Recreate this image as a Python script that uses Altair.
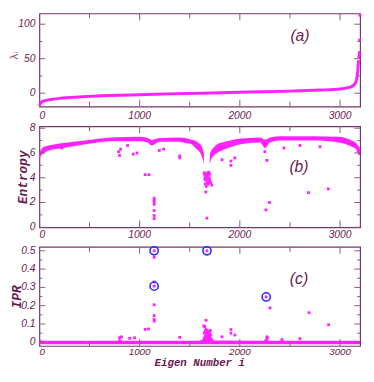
import altair as alt
import pandas as pd

# ---------------- data ----------------
# (a) eigenvalues lambda_i (sorted)
lam_i = [0, 20, 50, 100, 200, 400, 700, 1000, 1300, 1600, 1900, 2200, 2500, 2800, 3000, 3080, 3120, 3150, 3165, 3175, 3180, 3185]
lam_v = [-18, -13, -11, -9.5, -7.5, -5.5, -3.5, -2.2, -1, 0, 1, 2, 3, 4.5, 6, 8, 10, 14, 20, 30, 40, 48]
lam_out_i = [3188, 3190, 3192, 3195, 3198]
lam_out_v = [52, 55, 59, 77, 113]

# (b) entropy: dense band (lower / upper envelope), two branches
ent1_i = [0, 10, 48, 120, 240, 496, 719, 1000, 1080, 1119, 1150, 1199, 1390, 1454, 1518, 1550, 1590, 1614, 1630, 1642]
ent1_lo = [5.2, 5.7, 6.0, 6.25, 6.4, 6.75, 6.95, 6.95, 6.85, 6.6, 6.7, 6.9, 6.9, 6.8, 6.7, 6.45, 6.15, 5.85, 5.5, 5.1]
ent1_hi = [6.0, 6.2, 6.5, 6.65, 6.8, 7.05, 7.25, 7.3, 7.2, 7.05, 7.1, 7.2, 7.25, 7.2, 7.07, 7.0, 6.8, 6.6, 6.3, 5.9]
ent2_i = [1700, 1715, 1740, 1774, 1850, 1934, 2094, 2200, 2253, 2300, 2413, 2733, 2988, 3116, 3160, 3180, 3200]
ent2_lo = [5.1, 5.5, 5.8, 6.0, 6.3, 6.55, 6.8, 6.85, 6.4, 6.85, 7.0, 7.0, 6.85, 6.5, 6.3, 5.9, 5.8]
ent2_hi = [5.9, 6.2, 6.45, 6.7, 6.9, 7.07, 7.2, 7.25, 7.07, 7.25, 7.35, 7.35, 7.3, 7.0, 6.8, 6.6, 6.4]
# scattered entropy points
ent_out_i = [224, 790, 800, 810, 880, 937, 975, 1055, 1093, 1145, 1145, 1145, 1145, 1145, 1145, 1145,
             1196, 1240, 1400, 1400, 1822, 1911, 1911, 1950, 2250, 2270, 2295, 2260, 2685, 2883, 2440, 2600, 2800,
             1645, 1650, 1655, 1660, 1665, 1670, 1675, 1680, 1685, 1690, 1695, 1700, 1655, 1665, 1675,
             1685, 1700, 1710, 1720, 1660, 1672, 1650, 1690]
ent_out_v = [6.4, 6.1, 5.8, 6.3, 6.6, 5.9, 6.0, 4.25, 4.25, 2.35, 2.2, 2.05, 1.85, 1.35, 0.95, 0.7,
             6.2, 6.3, 5.75, 5.6, 5.45, 5.35, 5.0, 5.6, 6.1, 5.4, 2.0, 1.4, 2.8, 3.1, 6.4, 6.6, 6.5,
             4.4, 4.2, 4.0, 3.8, 4.3, 4.1, 3.9, 4.4, 4.2, 3.7, 4.0, 4.3, 3.5, 3.3, 3.6,
             3.5, 3.8, 3.6, 3.4, 2.85, 0.74, 3.9, 4.45]

# (c) IPR: baseline band
ipr_i = [0, 15, 40, 100, 780, 800, 830, 1600, 1625, 1645, 1665, 1690, 1715, 1740, 2240, 2265, 2290, 3200]
ipr_hi = [0.018, 0.012, 0.009, 0.008, 0.008, 0.02, 0.008, 0.008, 0.015, 0.04, 0.05, 0.045, 0.03, 0.01, 0.008, 0.025, 0.008, 0.008]
ipr_lo = [-0.010] * 18
ipr_out_i = [1145, 1145, 1145, 1145, 1145, 1145, 1145, 1145, 1055, 1088, 1400, 800, 820, 900, 950,
             1672, 1663, 1822, 1911, 1911, 1950, 2263, 2301, 2690, 2886, 2270, 2275, 2600, 2420,
             1640, 1650, 1655, 1660, 1665, 1670, 1675, 1680, 1690, 1700, 1705, 1710, 1645, 1685]
ipr_out_v = [0.50, 0.464, 0.33, 0.307, 0.205, 0.146, 0.125, 0.116, 0.071, 0.073, 0.027, 0.025, 0.03, 0.022, 0.025,
             0.50, 0.12, 0.03, 0.07, 0.05, 0.04, 0.248, 0.188, 0.162, 0.096, 0.03, 0.025, 0.02, 0.015,
             0.09, 0.085, 0.06, 0.07, 0.055, 0.065, 0.05, 0.06, 0.045, 0.055, 0.065, 0.04, 0.05, 0.035]
circ_i = [1145, 1145, 1672, 2263]
circ_v = [0.50, 0.307, 0.50, 0.248]

# axis tick values and labels
x_ticks = [0, 1000, 2000, 3000]
x_labels = ["0", "1000", "2000", "3000"]
x_minor = [500, 1500, 2500]
a_ticks = [0, 50, 100]
a_labels = ["0", "50", "100"]
a_minor = [25, 75]
b_ticks = [0, 2, 4, 6, 8]
b_labels = ["0", "2", "4", "6", "8"]
b_minor = [1, 3, 5, 7]
c_ticks = [0, 0.1, 0.2, 0.3, 0.4, 0.5]
c_labels = ["0", "0.1", "0.2", "0.3", "0.4", "0.5"]
c_minor = [0.05, 0.15, 0.25, 0.35, 0.45]

# ---------------- style ----------------
W = 327
MAG = "#ff22ff"
TXT = "#6a1b4e"
FRAME = "#7a3469"
TICK = "#8a5a80"
LABEL_FONT = "Liberation Sans"
TITLE_FONT = "Liberation Mono"
PT = 8

xs = alt.Scale(domain=[0, 3200], nice=False, zero=False)


def X(field):
    return alt.X(field, scale=xs, axis=None)


def Y(field, ys):
    return alt.Y(field, scale=ys, axis=None)


def frame_layers(ys, H, ymaj, ylab, ymin, xlab_dy=9, xlab_size=10.5):
    layers = []

    def rule(vals, orient, length):
        df = pd.DataFrame({"v": vals})
        base = alt.Chart(df).mark_rule(color=TICK, strokeWidth=1)
        if orient == "left":
            return base.encode(y=Y("v:Q", ys), x=alt.value(0), x2=alt.value(length))
        if orient == "right":
            return base.encode(y=Y("v:Q", ys), x=alt.value(W - length), x2=alt.value(W))
        if orient == "top":
            return base.encode(x=X("v:Q"), y=alt.value(0), y2=alt.value(length))
        return base.encode(x=X("v:Q"), y=alt.value(H - length), y2=alt.value(H))

    for o in ["left", "right"]:
        layers.append(rule(ymaj, o, 6))
        layers.append(rule(ymin, o, 3))
    for o in ["top", "bottom"]:
        layers.append(rule(x_ticks[1:], o, 7))
        layers.append(rule(x_minor, o, 5))

    # y tick labels
    dfy = pd.DataFrame({"v": ymaj, "t": ylab})
    layers.append(alt.Chart(dfy).mark_text(font=LABEL_FONT, fontStyle="italic", fontSize=10.5, color=TXT,
                                           align="right", baseline="middle", dx=-4).encode(
        y=Y("v:Q", ys), x=alt.value(0), text="t:N"))
    # x tick labels ("0" flush left)
    dfx0 = pd.DataFrame({"v": x_ticks[:1], "t": x_labels[:1]})
    dfx = pd.DataFrame({"v": x_ticks[1:], "t": x_labels[1:]})
    layers.append(alt.Chart(dfx0).mark_text(font=LABEL_FONT, fontStyle="italic", fontSize=xlab_size, color=TXT,
                                            align="left", baseline="middle").encode(
        x=X("v:Q"), y=alt.value(H + xlab_dy), text="t:N"))
    layers.append(alt.Chart(dfx).mark_text(font=LABEL_FONT, fontStyle="italic", fontSize=xlab_size, color=TXT,
                                           align="center", baseline="middle").encode(
        x=X("v:Q"), y=alt.value(H + xlab_dy), text="t:N"))
    return layers


def text_at(txt, xpx, ypx, size, font, weight, style, color=TXT, angle=0):
    df = pd.DataFrame({"t": [txt]})
    return alt.Chart(df).mark_text(font=font, fontWeight=weight, fontStyle=style, fontSize=size,
                                   color=color, align="center", baseline="middle", angle=angle).encode(
        x=alt.value(xpx), y=alt.value(ypx), text="t:N")


def panel_label(txt, xv, yv, ys):
    df = pd.DataFrame({"x": [xv], "y": [yv], "t": [txt]})
    return alt.Chart(df).mark_text(font=LABEL_FONT, fontStyle="italic", fontSize=16, color=TXT,
                                   align="center", baseline="middle").encode(
        x=X("x:Q"), y=Y("y:Q", ys), text="t:N")


# ---------------- panel (a) ----------------
Ha = 95
ys_a = alt.Scale(domain=[-19.5, 115.6], nice=False, zero=False)
df_a = pd.DataFrame({"i": lam_i, "v": lam_v})
df_a_out = pd.DataFrame({"i": lam_out_i, "v": lam_out_v})
a_line = alt.Chart(df_a).mark_line(color=MAG, strokeWidth=3, interpolate="monotone").encode(
    x=X("i:Q"), y=Y("v:Q", ys_a))
a_pts = alt.Chart(df_a_out).mark_square(color=MAG, size=PT, opacity=1).encode(
    x=X("i:Q"), y=Y("v:Q", ys_a))
panel_a = alt.layer(
    a_line, a_pts, panel_label("(a)", 2600, 83, ys_a),
    *frame_layers(ys_a, Ha, a_ticks, a_labels, a_minor, xlab_dy=10),
    text_at("λᵢ", -24.5, 43, 11, "DejaVu Sans", "normal", "normal", color="#8a4a7a", angle=270),
).properties(width=W, height=Ha)

# ---------------- panel (b) ----------------
Hb = 103
ys_b = alt.Scale(domain=[0, 8.158], nice=False, zero=False)
df_b = pd.concat([
    pd.DataFrame({"i": ent1_i, "lo": ent1_lo, "hi": ent1_hi, "seg": "L"}),
    pd.DataFrame({"i": ent2_i, "lo": ent2_lo, "hi": ent2_hi, "seg": "R"}),
])
df_b_out = pd.DataFrame({"i": ent_out_i, "v": ent_out_v})
b_band = alt.Chart(df_b).mark_area(color=MAG, opacity=1, interpolate="monotone").encode(
    x=X("i:Q"), y=Y("lo:Q", ys_b), y2="hi:Q", detail="seg:N")
b_pts = alt.Chart(df_b_out).mark_square(color=MAG, size=PT, opacity=1).encode(
    x=X("i:Q"), y=Y("v:Q", ys_b))
panel_b = alt.layer(
    b_band, b_pts, panel_label("(b)", 2590, 4.83, ys_b),
    *frame_layers(ys_b, Hb, b_ticks, b_labels, b_minor, xlab_dy=8),
    text_at("Entropy", -17, 52, 13, TITLE_FONT, "bold", "italic", angle=270),
).properties(width=W, height=Hb)

# ---------------- panel (c) ----------------
Hc = 101
ys_c = alt.Scale(domain=[-0.0198, 0.5214], nice=False, zero=False)
df_c = pd.DataFrame({"i": ipr_i, "lo": ipr_lo, "hi": ipr_hi})
df_c_out = pd.DataFrame({"i": ipr_out_i, "v": ipr_out_v})
df_circ = pd.DataFrame({"i": circ_i, "v": circ_v})
c_band = alt.Chart(df_c).mark_area(color=MAG, opacity=1).encode(
    x=X("i:Q"), y=Y("lo:Q", ys_c), y2="hi:Q")
c_pts = alt.Chart(df_c_out).mark_square(color=MAG, size=PT, opacity=1).encode(
    x=X("i:Q"), y=Y("v:Q", ys_c))
c_circ = alt.Chart(df_circ).mark_point(shape="circle", filled=False, color="#2a2aff", size=70,
                                       strokeWidth=1.6, opacity=1).encode(
    x=X("i:Q"), y=Y("v:Q", ys_c))
panel_c = alt.layer(
    c_band, c_pts, c_circ, panel_label("(c)", 2590, 0.345, ys_c),
    *frame_layers(ys_c, Hc, c_ticks, c_labels, c_minor, xlab_dy=6, xlab_size=10),
    text_at("IPR", -23, 51, 13, TITLE_FONT, "bold", "italic", angle=270),
    text_at("Eigen Number i", W / 2, Hc + 17, 11, TITLE_FONT, "bold", "italic"),
).properties(width=W, height=Hc)

chart = alt.vconcat(panel_a, panel_b, panel_c, spacing=20, bounds="flush").properties(
    padding={"left": 0, "top": 0, "right": 0, "bottom": 0}
).configure_view(stroke=FRAME, strokeWidth=1.2)

chart.save("out.html", embed_options={"renderer": "svg", "actions": False})
